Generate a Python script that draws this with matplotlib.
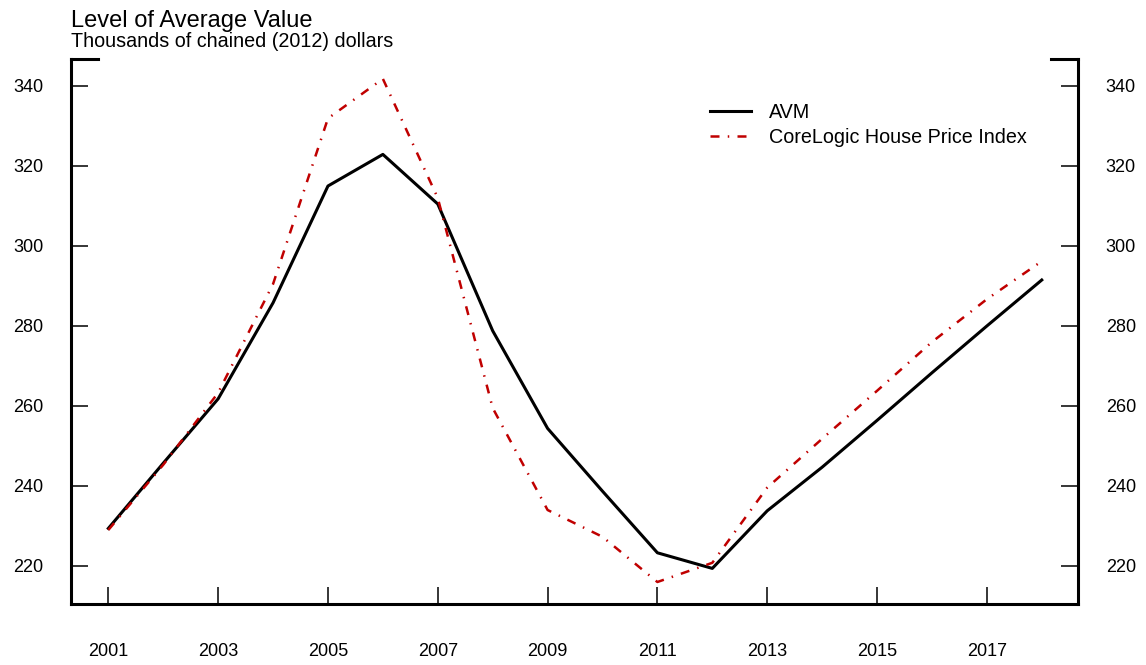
import matplotlib
matplotlib.use("Agg")
import matplotlib.pyplot as plt

plt.rcParams['font.family'] = ['Liberation Sans', 'DejaVu Sans']

years = list(range(2001, 2019))
avm = [229.4, 245.7, 261.8, 285.8, 315.0, 322.9, 310.5, 278.8, 254.4, 238.7,
       223.3, 219.4, 233.8, 244.7, 256.4, 268.3, 280.0, 291.5]
corelogic = [229.0, 245.3, 263.3, 290.5, 331.9, 341.8, 312.0, 259.5, 234.0, 227.3,
             216.0, 220.8, 239.6, 251.8, 263.8, 276.0, 286.7, 296.2]
xticks = [2001, 2003, 2005, 2007, 2009, 2011, 2013, 2015, 2017]
yticks = [220, 240, 260, 280, 300, 320, 340]

fig = plt.figure(figsize=(11.46, 6.65), dpi=100)
W, H = 1146, 665
ax = fig.add_axes([71 / W, (H - 604) / H, (1078 - 71) / W, (604 - 59) / H])

ax.plot(years, avm, color='black', lw=2.2, label='AVM')
ax.plot(years, corelogic, color='#C00000', lw=1.8, linestyle=(0, (3.6, 3.3, 0.6, 3.3)),
        label='CoreLogic House Price Index')

ax.set_xlim(2000.32, 2018.66)
ax.set_ylim(210.5, 346.75)

for s in ['left', 'right', 'bottom']:
    ax.spines[s].set_linewidth(2.2)
ax.spines['top'].set_visible(False)

# small corner segments at top of the frame
frac = 27 / (1078 - 71)
ax.plot([0, frac], [1, 1], transform=ax.transAxes, color='black', lw=2.2,
        clip_on=False, solid_capstyle='projecting')
ax.plot([1 - frac, 1], [1, 1], transform=ax.transAxes, color='black', lw=2.2,
        clip_on=False, solid_capstyle='projecting')

ax.set_xticks(xticks)
ax.set_xticklabels([str(x) for x in xticks])
ax.set_yticks(yticks)
ax.set_yticklabels([str(y) for y in yticks])
ax.tick_params(axis='x', direction='in', length=12, width=1.1, pad=28, labelsize=13)
ax.tick_params(axis='y', direction='in', length=12, width=1.1, pad=20, labelsize=13,
               left=True, right=True, labelleft=True, labelright=True)

fig.text(71 / W, 1 - 27 / H, 'Level of Average Value', fontsize=17, ha='left', va='baseline')
fig.text(71 / W, 1 - 47 / H, 'Thousands of chained (2012) dollars', fontsize=14.2,
         ha='left', va='baseline')

leg = ax.legend(loc='upper left', bbox_to_anchor=((702 - 71) / (1078 - 71), (604 - 95) / (604 - 59)),
                frameon=False, fontsize=14.2, handlelength=2.1, handletextpad=0.9,
                labelspacing=0.3, borderaxespad=0)

fig.savefig('out.png', dpi=100)
